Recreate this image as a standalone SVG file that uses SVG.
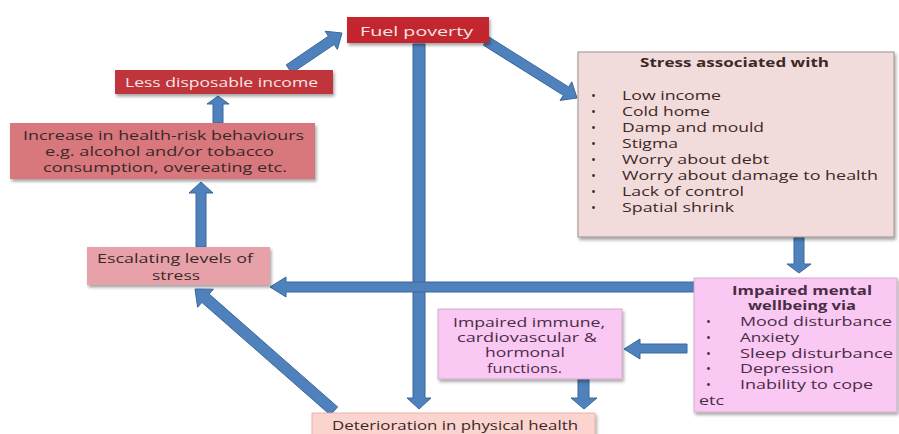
<svg xmlns="http://www.w3.org/2000/svg" width="899" height="434" viewBox="0 0 899 434">
<defs>
<filter id="sh" x="-10%" y="-10%" width="120%" height="130%">
<feDropShadow dx="1.5" dy="2.5" stdDeviation="1.5" flood-color="#000" flood-opacity="0.35"/>
</filter>
<style>
.arr{fill:#4f81bd;stroke:#3c679a;stroke-width:1}
.box{filter:url(#sh)}
text{font-family:"Open Sans","Liberation Sans",sans-serif;font-size:13px;fill:#3b2828}
.w{fill:#f7e6e6}
.b{font-weight:bold;font-size:12.5px}
.m{fill:#4a2c46}
</style>
</defs>
<rect width="899" height="434" fill="#ffffff"/>
<g id="connectors">
<polygon class="arr" points="213,123 213,104 207,104 218,96 229,104 223,104 223,123"/>
<polygon class="arr" points="196,247 196,193 189,193 201,182 213,193 206,193 206,247"/>
<polygon class="arr" points="413,44 413,398 407,398 419,409 431,398 425,398 425,44"/>
<polygon class="arr" points="794,237 794,264 787,264 799,273 811,264 804,264 804,237"/>
<polygon class="arr" points="578,379 578,398 571,398 584,409 597,398 589,398 589,379"/>
<polygon class="arr" points="695,282 286,282 286,277 270,287 286,297 286,292 695,292"/>
<polygon class="arr" points="687,344 640,344 640,339 624,349 640,359 640,353 687,353"/>
<polygon class="arr" points="291.8,73.1 334.1,44.5 337.4,49.4 342,33 325.1,31.2 328.4,36.2 286.2,64.9"/>
<polygon class="arr" points="483.4,45.2 563.3,95.3 560.1,100.4 577,98 571.8,81.8 568.6,86.9 488.7,36.8"/>
<polygon class="arr" points="337.6,406.9 209.2,294.1 213.4,289.2 195,289 197.6,307.3 201.9,302.4 330.4,415.1"/>
</g>
<g id="fuel-poverty">
<rect class="box" x="347" y="17" width="142" height="26" fill="#c3282e"/>
<text class="w" x="360" y="36" textLength="113" lengthAdjust="spacingAndGlyphs">Fuel poverty</text>
</g>
<g id="less-disposable-income">
<rect class="box" x="115" y="70" width="218" height="24" fill="#c0363a"/>
<text class="w" x="125" y="87" textLength="193" lengthAdjust="spacingAndGlyphs">Less disposable income</text>
</g>
<g id="health-risk-behaviours">
<rect class="box" x="10" y="123" width="305" height="56" fill="#d8777b"/>
<text x="23" y="140" textLength="281" lengthAdjust="spacingAndGlyphs">Increase in health-risk behaviours</text>
<text x="45" y="156" textLength="229" lengthAdjust="spacingAndGlyphs">e.g. alcohol and/or tobacco</text>
<text x="43" y="172" textLength="244" lengthAdjust="spacingAndGlyphs">consumption, overeating etc.</text>
</g>
<g id="escalating-stress">
<rect class="box" x="87" y="247" width="183" height="38" fill="#e6a2a8"/>
<text x="97" y="263" textLength="156" lengthAdjust="spacingAndGlyphs">Escalating levels of</text>
<text x="152" y="280" textLength="48" lengthAdjust="spacingAndGlyphs">stress</text>
</g>
<g id="stress-associated">
<rect class="box" x="578" y="52" width="316" height="185" fill="#f2dcdb" stroke="#9a9090" stroke-width="1"/>
<text class="b" x="640" y="67" textLength="189" lengthAdjust="spacingAndGlyphs">Stress associated with</text>
<text x="591" y="100">•</text><text x="622" y="100" textLength="99" lengthAdjust="spacingAndGlyphs">Low income</text>
<text x="591" y="116">•</text><text x="622" y="116" textLength="88" lengthAdjust="spacingAndGlyphs">Cold home</text>
<text x="591" y="132">•</text><text x="622" y="132" textLength="142" lengthAdjust="spacingAndGlyphs">Damp and mould</text>
<text x="591" y="148">•</text><text x="622" y="148" textLength="56" lengthAdjust="spacingAndGlyphs">Stigma</text>
<text x="591" y="164">•</text><text x="622" y="164" textLength="147" lengthAdjust="spacingAndGlyphs">Worry about debt</text>
<text x="591" y="180">•</text><text x="622" y="180" textLength="256" lengthAdjust="spacingAndGlyphs">Worry about damage to health</text>
<text x="591" y="196">•</text><text x="622" y="196" textLength="122" lengthAdjust="spacingAndGlyphs">Lack of control</text>
<text x="591" y="212">•</text><text x="622" y="212" textLength="112" lengthAdjust="spacingAndGlyphs">Spatial shrink</text>
</g>
<g id="impaired-mental-wellbeing">
<rect class="box" x="694" y="278" width="203" height="134" fill="#f9c8f3" stroke="#c8a0c4" stroke-width="0.8"/>
<text class="b m" x="732" y="295" textLength="140" lengthAdjust="spacingAndGlyphs">Impaired  mental</text>
<text class="b m" x="748" y="310" textLength="108" lengthAdjust="spacingAndGlyphs">wellbeing via</text>
<text class="m" x="706" y="326">•</text><text class="m" x="740" y="326" textLength="152" lengthAdjust="spacingAndGlyphs">Mood disturbance</text>
<text class="m" x="706" y="342">•</text><text class="m" x="740" y="342" textLength="59" lengthAdjust="spacingAndGlyphs">Anxiety</text>
<text class="m" x="706" y="358">•</text><text class="m" x="740" y="358" textLength="153" lengthAdjust="spacingAndGlyphs">Sleep disturbance</text>
<text class="m" x="706" y="373">•</text><text class="m" x="740" y="373" textLength="94" lengthAdjust="spacingAndGlyphs">Depression</text>
<text class="m" x="706" y="389">•</text><text class="m" x="740" y="389" textLength="133" lengthAdjust="spacingAndGlyphs">Inability to cope</text>
<text class="m" x="699" y="405" textLength="25" lengthAdjust="spacingAndGlyphs">etc</text>
</g>
<g id="impaired-immune">
<rect class="box" x="438" y="309" width="184" height="70" fill="#f9c8f3" stroke="#c8a0c4" stroke-width="0.8"/>
<text class="m" x="453" y="327" textLength="152" lengthAdjust="spacingAndGlyphs">Impaired immune,</text>
<text class="m" x="457" y="342" textLength="140" lengthAdjust="spacingAndGlyphs">cardiovascular &amp;</text>
<text class="m" x="485" y="357" textLength="80" lengthAdjust="spacingAndGlyphs">hormonal</text>
<text class="m" x="487" y="373" textLength="75" lengthAdjust="spacingAndGlyphs">functions.</text>
</g>
<g id="physical-health">
<rect class="box" x="312" y="413" width="283" height="30" fill="#fbd4d0" stroke="#eaa8a2" stroke-width="0.8"/>
<text x="332" y="430" textLength="246" lengthAdjust="spacingAndGlyphs">Deterioration in physical health</text>
</g>
</svg>
